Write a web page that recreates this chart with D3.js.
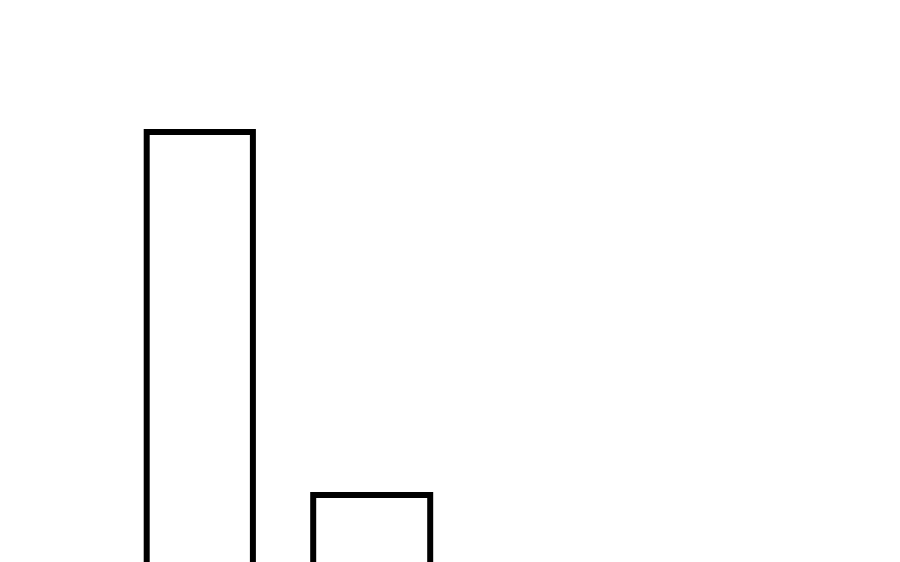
<!DOCTYPE html>
<html>
<head>
<meta charset="utf-8">
<script src="https://cdn.jsdelivr.net/npm/d3@7"></script>
<style>
  html, body { margin: 0; padding: 0; background: #fff; overflow: hidden; }
</style>
</head>
<body>
<div id="wrapper"></div>
<script>
// bin edges and bar heights (bars run past the bottom edge)
const binStart = [16.3, 34.8];
const binEnd = [28.1, 47.8];
const values = [93.6, 21];

function draw() {
  const dimensions = {
    width: 900,
    height: 562
  };

  const wrapper = d3.select("#wrapper")
    .append("svg")
      .attr("width", dimensions.width)
      .attr("height", dimensions.height)
      .style("display", "block");

  // x in bin units, y baseline sits below the visible area
  const xScale = d3.scaleLinear()
    .domain([0, 100])
    .range([0, 900]);
  const yScale = d3.scaleLinear()
    .domain([0, 100])
    .range([600, 100]);

  const bars = values.map((v, i) => ({ x0: binStart[i], x1: binEnd[i], v: v }));

  wrapper.append("g")
    .selectAll("rect")
    .data(bars)
    .enter()
    .append("rect")
    .attr("x", d => xScale(d.x0))
    .attr("y", d => yScale(d.v))
    .attr("width", d => xScale(d.x1) - xScale(d.x0))
    .attr("height", d => yScale(0) - yScale(d.v))
    .attr("fill", "none")
    .attr("stroke", "black")
    .attr("stroke-width", 6);
}
draw();
</script>
</body>
</html>
